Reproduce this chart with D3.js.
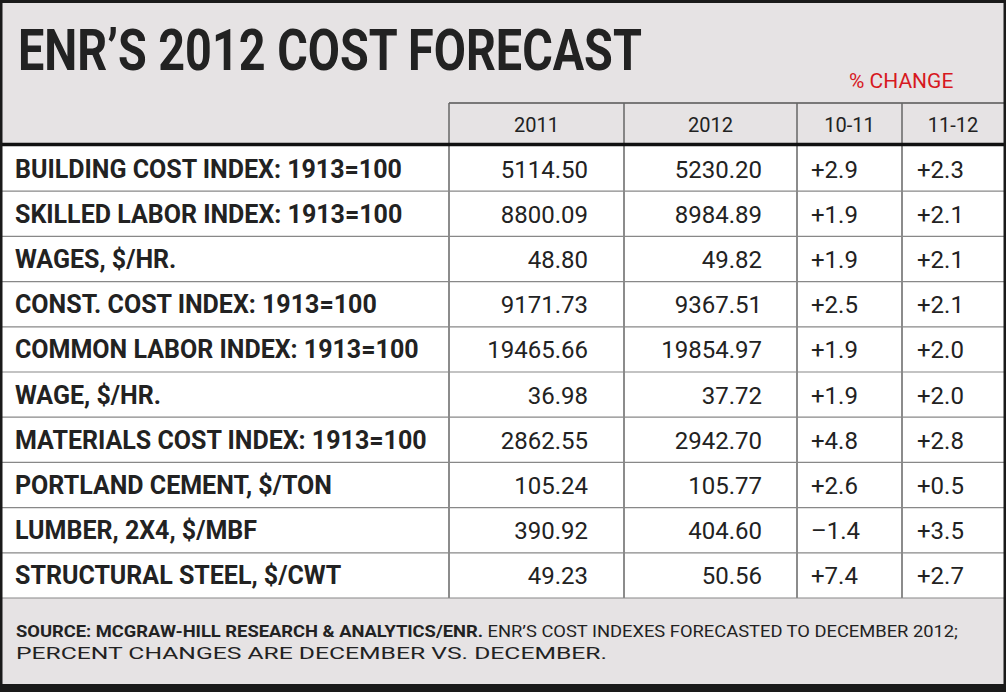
<!DOCTYPE html>
<html><head><meta charset="utf-8">
<script src="https://cdn.jsdelivr.net/npm/d3@7"></script>
<style>
  body { margin: 0; background: #fff; }
  text { font-family: "Roboto", "DejaVu Sans Condensed", sans-serif; }
</style></head>
<body><svg id="chart" width="1006" height="692"></svg>
<script>
const labels = ['BUILDING COST INDEX: 1913=100', 'SKILLED LABOR INDEX: 1913=100', 'WAGES, $/HR.',
  'CONST. COST INDEX: 1913=100', 'COMMON LABOR INDEX: 1913=100', 'WAGE, $/HR.',
  'MATERIALS COST INDEX: 1913=100', 'PORTLAND CEMENT, $/TON', 'LUMBER, 2X4, $/MBF', 'STRUCTURAL STEEL, $/CWT']
const v2011 = [5114.50, 8800.09, 48.80, 9171.73, 19465.66, 36.98, 2862.55, 105.24, 390.92, 49.23]
const v2012 = [5230.20, 8984.89, 49.82, 9367.51, 19854.97, 37.72, 2942.70, 105.77, 404.60, 50.56]
const chg1011 = [2.9, 1.9, 1.9, 2.5, 1.9, 1.9, 4.8, 2.6, -1.4, 7.4]
const chg1112 = [2.3, 2.1, 2.1, 2.1, 2.0, 2.0, 2.8, 0.5, 3.5, 2.7]
const columns = ['2011', '2012', '10-11', '11-12']

const width = 1006, height = 692
const svg = d3.select('#chart')
const bg = '#e6e3e4'

svg.append('rect').attr('width', width).attr('height', height).attr('fill', bg)

// column edges
const x = d3.scaleOrdinal().domain(columns).range([449, 624, 797, 902])
const colRight = { '2011': 624, '2012': 797, '10-11': 902, '11-12': 1004 }
const y = d3.scaleBand().domain(d3.range(labels.length)).range([146, 598])

// white body
svg.append('rect').attr('x', 0).attr('y', 146).attr('width', width).attr('height', 452).attr('fill', '#fff')

// header
svg.append('line').attr('x1', 449).attr('x2', width).attr('y1', 103).attr('y2', 103).attr('stroke', '#555').attr('stroke-width', 1.5)
columns.forEach(c => {
  svg.append('line').attr('x1', x(c)).attr('x2', x(c)).attr('y1', 103).attr('y2', 598).attr('stroke', '#666').attr('stroke-width', 1.5)
  svg.append('text').attr('x', (x(c) + colRight[c]) / 2).attr('y', 132).attr('text-anchor', 'middle')
    .attr('font-size', 20).attr('fill', '#222').text(c)
})
svg.append('line').attr('x1', 0).attr('x2', width).attr('y1', 144.5).attr('y2', 144.5).attr('stroke', '#111').attr('stroke-width', 3.5)

// rows
const fmt = d3.format('.2f')
const pct = v => (v < 0 ? '\u2013' + Math.abs(v).toFixed(1) : '+' + v.toFixed(1))
labels.forEach((lab, i) => {
  const ty = y(i) + y.bandwidth() / 2 + 9
  if (i > 0) svg.append('line').attr('x1', 0).attr('x2', width).attr('y1', y(i)).attr('y2', y(i)).attr('stroke', '#888').attr('stroke-width', 1.2)
  svg.append('text').attr('x', 15).attr('y', ty).attr('font-size', 25).attr('font-weight', 'bold').attr('fill', '#222').text(lab)
  svg.append('text').attr('x', 588).attr('y', ty).attr('text-anchor', 'end').attr('font-size', 24).attr('fill', '#222').text(fmt(v2011[i]))
  svg.append('text').attr('x', 762).attr('y', ty).attr('text-anchor', 'end').attr('font-size', 24).attr('fill', '#222').text(fmt(v2012[i]))
  svg.append('text').attr('x', 811).attr('y', ty).attr('font-size', 24).attr('fill', '#222').text(pct(chg1011[i]))
  svg.append('text').attr('x', 917).attr('y', ty).attr('font-size', 24).attr('fill', '#222').text(pct(chg1112[i]))
})
svg.append('line').attr('x1', 0).attr('x2', width).attr('y1', 598).attr('y2', 598).attr('stroke', '#888').attr('stroke-width', 1.2)

// title, condensed horizontally
svg.append('text').attr('transform', 'translate(18,70) scale(0.82,1)').attr('font-size', 57).attr('font-weight', 'bold')
  .attr('fill', '#222').text('ENR\u2019S 2012 COST FORECAST')
svg.append('text').attr('x', 849).attr('y', 88).attr('font-size', 21).attr('fill', '#d7191f').text('% CHANGE')

// footer
const foot = svg.append('text').attr('x', 16).attr('y', 637).attr('font-size', 16).attr('fill', '#222')
  .attr('textLength', 942).attr('lengthAdjust', 'spacingAndGlyphs')
foot.append('tspan').attr('font-weight', 'bold').text('SOURCE: MCGRAW-HILL RESEARCH & ANALYTICS/ENR.')
foot.append('tspan').text(' ENR\u2019S COST INDEXES FORECASTED TO DECEMBER 2012;')
svg.append('text').attr('x', 16).attr('y', 659).attr('font-size', 16).attr('fill', '#222')
  .attr('textLength', 591).attr('lengthAdjust', 'spacingAndGlyphs')
  .text('PERCENT CHANGES ARE DECEMBER VS. DECEMBER.')

// frame
svg.append('rect').attr('x', 0).attr('y', 684).attr('width', width).attr('height', 8).attr('fill', '#1a1a1a')
svg.append('rect').attr('x', 1).attr('y', 1.5).attr('width', width - 2).attr('height', height - 3)
  .attr('fill', 'none').attr('stroke', '#1a1a1a').attr('stroke-width', 3)
</script></body></html>
